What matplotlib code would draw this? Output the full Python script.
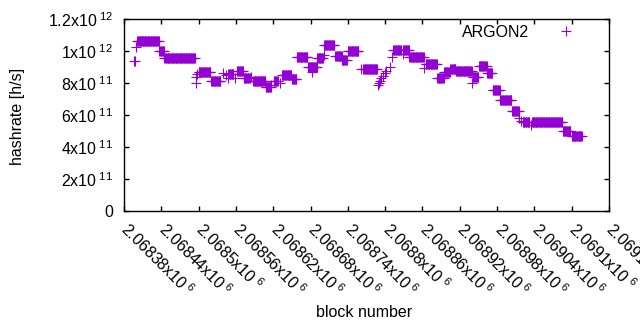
import matplotlib
matplotlib.use('Agg')
import matplotlib.pyplot as plt
import matplotlib.transforms as mtransforms
import numpy as np

plt.rcParams['font.family'] = 'Liberation Sans'
plt.rcParams['mathtext.fontset'] = 'custom'
plt.rcParams['mathtext.rm'] = 'Liberation Sans'
plt.rcParams['mathtext.it'] = 'Liberation Sans:italic'
plt.rcParams['mathtext.bf'] = 'Liberation Sans:bold'

#----------------  data  ---------------------------------------

# hashrate stays flat over runs of blocks; one point per block in each run
seg_start = [2068396, 2068399, 2068401, 2068437, 2068445, 2068495, 2068496, 2068498,
             2068500, 2068520, 2068539, 2068544, 2068547, 2068548, 2068559, 2068562,
             2068573, 2068584, 2068588, 2068608, 2068617, 2068621, 2068631, 2068634,
             2068650, 2068658, 2068676, 2068683, 2068691, 2068701, 2068702, 2068720,
             2068731, 2068740, 2068761, 2068765, 2068789, 2068790, 2068791, 2068794,
             2068796, 2068799, 2068802, 2068807, 2068811, 2068813, 2068828, 2068829,
             2068839, 2068863, 2068865, 2068884, 2068895, 2068905, 2068914, 2068940,
             2068941, 2068951, 2068964, 2068973, 2068985, 2069004, 2069016, 2069019,
             2069021, 2069035, 2069036, 2069086, 2069100]
seg_end   = [2068397, 2068399, 2068436, 2068444, 2068494, 2068495, 2068496, 2068498,
             2068519, 2068535, 2068539, 2068544, 2068547, 2068556, 2068559, 2068571,
             2068582, 2068584, 2068607, 2068616, 2068617, 2068627, 2068631, 2068649,
             2068657, 2068675, 2068690, 2068683, 2068700, 2068701, 2068718, 2068730,
             2068738, 2068757, 2068761, 2068787, 2068789, 2068790, 2068791, 2068794,
             2068796, 2068799, 2068802, 2068807, 2068811, 2068826, 2068828, 2068838,
             2068862, 2068863, 2068883, 2068894, 2068904, 2068913, 2068939, 2068940,
             2068950, 2068963, 2068972, 2068984, 2069003, 2069015, 2069016, 2069019,
             2069032, 2069035, 2069085, 2069098, 2069116]
# in units of 1e11 h/s
seg_rate  = [9.39, 10.27, 10.60, 9.98, 9.54, 8.02, 8.35, 8.56,
             8.67, 8.15, 8.60, 8.50, 8.29, 8.56, 8.29, 8.75,
             8.33, 8.35, 8.12, 7.73, 7.87, 8.15, 7.98, 8.48,
             8.22, 9.60, 8.98, 8.71, 9.56, 9.78, 10.36, 9.68,
             9.45, 10.03, 8.86, 8.90, 7.90, 7.98, 8.10, 8.31,
             8.45, 8.63, 8.77, 8.98, 9.60, 10.04, 9.83, 10.04,
             9.60, 8.94, 9.19, 8.29, 8.69, 8.89, 8.75, 8.00,
             8.35, 9.04, 8.63, 7.54, 6.92, 6.23, 5.81, 5.64,
             5.56, 5.39, 5.54, 4.98, 4.67]

x_min, x_max, x_step = 2068380, 2069160, 60
y_ticks = [0, 2e11, 4e11, 6e11, 8e11, 1e12, 1.2e12]
y_tick_labels = ['0', r'2x10$^{\ 11}$', r'4x10$^{\ 11}$', r'6x10$^{\ 11}$',
                 r'8x10$^{\ 11}$', r'1x10$^{\ 12}$', r'1.2x10$^{\ 12}$']

blocks = np.concatenate([np.arange(s, e + 1) for s, e in zip(seg_start, seg_end)])
rates = np.concatenate([np.full(e - s + 1, r * 1e11) for s, e, r in zip(seg_start, seg_end, seg_rate)])

#----------------  plot  --------------------

fs = 11.5
fig = plt.figure(figsize=(6.4, 3.3), dpi=100)
ax = fig.add_axes([124/640, 1 - 211/330, 485/640, 192/330])

ax.plot(blocks, rates, '+', color='#9400d3', markersize=6.5, markeredgewidth=0.8,
        label='ARGON2')

ax.set_xlim(x_min, x_max)
ax.set_ylim(0, 1.2e12)

x_ticks = np.arange(x_min, x_max + 1, x_step)
ax.set_xticks(x_ticks)
ax.set_xticklabels([r'%gx10$^{\ 6}$' % (v / 1e6) for v in x_ticks],
                   rotation=-45, ha='left', va='top', rotation_mode='anchor')
ax.set_yticks(y_ticks)
ax.set_yticklabels(y_tick_labels)

ax.tick_params(direction='in', top=True, right=True, length=3.5, width=1,
               labelsize=fs, colors='black')
ax.tick_params(axis='y', pad=8)
ax.tick_params(axis='x', pad=6)
# gnuplot puts the rotated labels a little right of the tick
shift = mtransforms.ScaledTranslation(0.07, 0, fig.dpi_scale_trans)
for lab in ax.get_xticklabels():
    lab.set_transform(lab.get_transform() + shift)
for sp in ax.spines.values():
    sp.set_linewidth(1)

ax.set_xlabel('block number', fontsize=fs, va='top')
ax.xaxis.set_label_coords(0.495, -0.49)
ax.set_ylabel('hashrate [h/s]', fontsize=fs)
ax.yaxis.set_label_coords(-0.204, 0.49)

ax.legend(loc='center right', bbox_to_anchor=(0.944, 0.932), frameon=False,
          markerfirst=False, handlelength=2, handletextpad=1.3,
          borderpad=0, borderaxespad=0, fontsize=fs)

fig.savefig('out.png', dpi=100)
